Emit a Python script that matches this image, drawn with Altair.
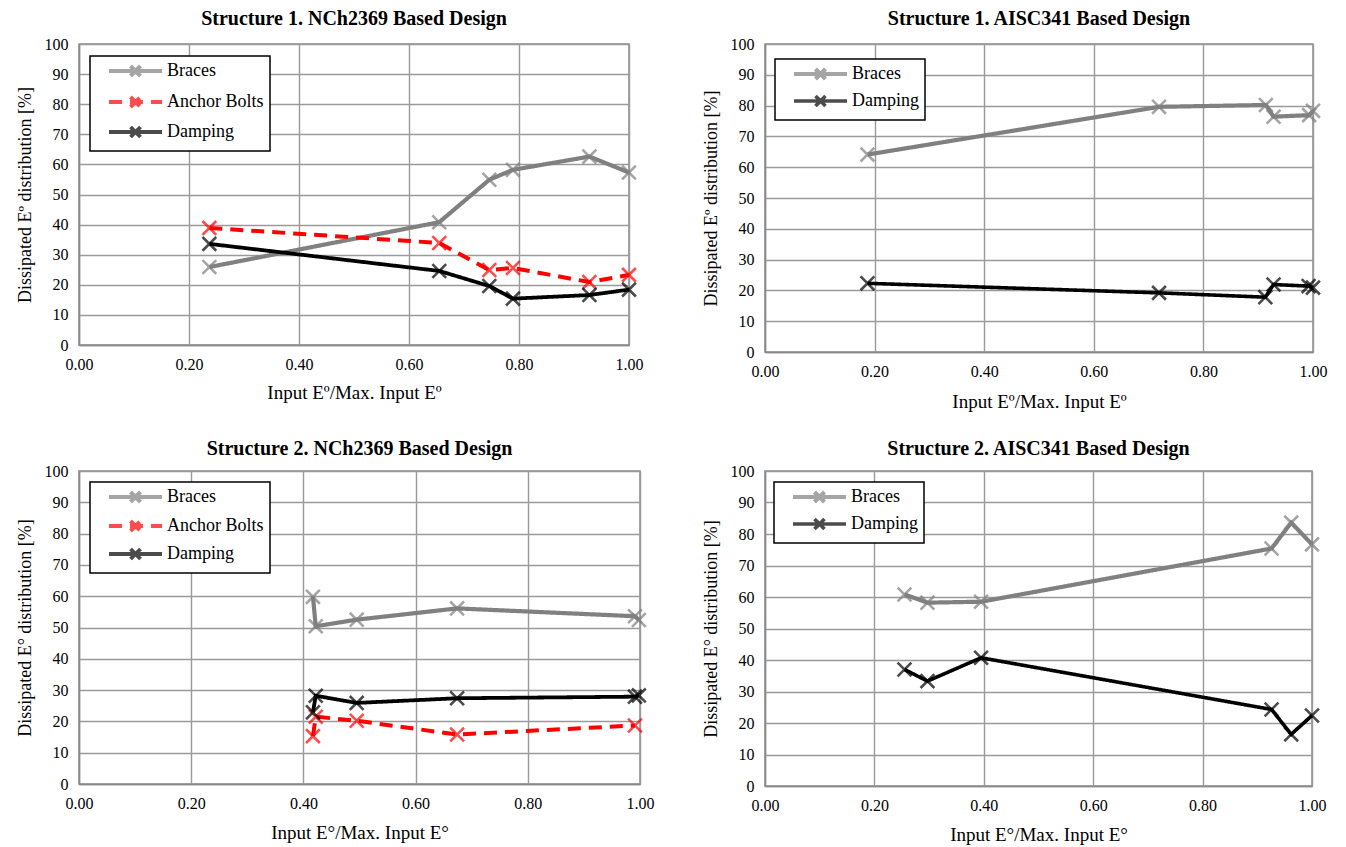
import altair as alt
import pandas as pd

# ---------------- data ----------------
series_order = ["Braces", "Anchor Bolts", "Damping"]

# Structure 1, NCh2369
p1_x = [0.237, 0.655, 0.746, 0.789, 0.928, 1.00]
p1_braces = [25.9, 40.8, 54.9, 58.2, 62.6, 57.3]
p1_x_anchor = [0.237, 0.655, 0.746, 0.789, 0.928, 1.00]
p1_anchor = [38.9, 33.9, 24.9, 25.6, 20.9, 23.3]
p1_x_damp = [0.237, 0.655, 0.746, 0.789, 0.928, 1.00]
p1_damping = [33.6, 24.6, 19.6, 15.4, 16.6, 18.4]

# Structure 1, AISC341
p2_x = [0.187, 0.719, 0.914, 0.928, 0.993, 1.00]
p2_braces = [64.1, 79.6, 80.2, 76.4, 76.9, 78.3]
p2_x_damp = [0.187, 0.719, 0.913, 0.928, 0.992, 1.00]
p2_damping = [22.3, 19.2, 17.8, 21.9, 21.4, 20.9]

# Structure 2, NCh2369
p3_x = [0.417, 0.422, 0.495, 0.674, 0.991, 0.998]
p3_braces = [59.8, 50.4, 52.5, 56.1, 53.6, 52.4]
p3_x_anchor = [0.417, 0.422, 0.495, 0.674, 0.991]
p3_anchor = [15.3, 21.5, 20.2, 15.8, 18.7]
p3_x_damp = [0.417, 0.422, 0.495, 0.674, 0.991, 0.998]
p3_damping = [22.9, 28.2, 25.9, 27.4, 27.9, 28.3]

# Structure 2, AISC341
p4_x = [0.255, 0.297, 0.395, 0.926, 0.962, 1.00]
p4_braces = [60.8, 58.2, 58.5, 75.4, 83.6, 76.7]
p4_damping = [37.0, 33.3, 40.7, 24.3, 16.4, 22.4]

titles = [
    "Structure 1. NCh2369 Based Design",
    "Structure 1. AISC341  Based Design",
    "Structure 2. NCh2369 Based Design",
    "Structure 2. AISC341  Based Design",
]
x_titles = [
    "Input Eº/Max. Input Eº",
    "Input Eº/Max. Input Eº",
    "Input E°/Max. Input E°",
    "Input E°/Max. Input E°",
]
y_titles = [
    "Dissipated Eº distribution  [%]",
    "Dissipated Eº distribution  [%]",
    "Dissipated E° distribution  [%]",
    "Dissipated E° distribution  [%]",
]
x_ticks = [0.0, 0.2, 0.4, 0.6, 0.8, 1.0]
y_ticks = [0, 10, 20, 30, 40, 50, 60, 70, 80, 90, 100]

FONT = "Liberation Serif"
COLORS = {"Braces": "#808080", "Anchor Bolts": "#ff0000", "Damping": "#000000"}
DASHES = {"Braces": [1, 0], "Anchor Bolts": [13, 8], "Damping": [1, 0]}
WIDTHS = {"Braces": 4.2, "Anchor Bolts": 3.8, "Damping": 3.6}


def frame(pairs):
    rows = []
    for name, xs, ys in pairs:
        for i, (a, b) in enumerate(zip(xs, ys)):
            rows.append({"series": name, "x": a, "y": b, "i": i})
    return pd.DataFrame(rows)


LEGEND_PATH = "M0,0L21.2,0M8.6,-2L12.6,2M8.6,2L12.6,-2"
MARKER = "M-1,-1L1,1M-1,1L1,-1"


def panel(df, idx, w, h, lx, ly, row_pad, title_off, xtp):
    names = [s for s in series_order if s in set(df["series"])]
    color_scale = alt.Scale(domain=names, range=[COLORS[n] for n in names])
    dash_scale = alt.Scale(domain=names, range=[DASHES[n] for n in names])
    width_scale = alt.Scale(domain=names, range=[WIDTHS[n] for n in names])
    legend = alt.Legend(
        title=None, orient="none", legendX=lx, legendY=ly,
        symbolType=LEGEND_PATH, symbolSize=25, symbolStrokeWidth=4,
        symbolOffset=4, labelOffset=49, rowPadding=row_pad,
        padding=6, strokeColor="black", fillColor="white",
        labelFont=FONT, labelFontSize=18, labelColor="black", labelLimit=220,
    )
    xenc = alt.X("x:Q", scale=alt.Scale(domain=[0, 1], nice=False),
                 axis=alt.Axis(values=x_ticks, format=".2f", title=x_titles[idx],
                               labelFont=FONT, titleFont=FONT, labelFlush=False,
                               labelOverlap=False, labelPadding=11, titlePadding=xtp))
    yenc = alt.Y("y:Q", scale=alt.Scale(domain=[0, 100], nice=False),
                 axis=alt.Axis(values=y_ticks, tickCount=11, title=y_titles[idx],
                               labelFont=FONT, titleFont=FONT, labelFlush=False,
                               labelOverlap=False, labelPadding=11, titlePadding=10))
    line = alt.Chart(df).mark_line().encode(
        x=xenc, y=yenc,
        color=alt.Color("series:N", scale=color_scale, legend=legend),
        strokeDash=alt.StrokeDash("series:N", scale=dash_scale, legend=legend),
        strokeWidth=alt.StrokeWidth("series:N", scale=width_scale, legend=None),
        detail="series:N",
        order="i:Q",
    )
    pts = alt.Chart(df).mark_point(shape=MARKER, filled=False, size=190, strokeWidth=2.6).encode(
        x="x:Q", y="y:Q",
        color=alt.Color("series:N", scale=color_scale, legend=legend),
    )
    return alt.layer(line, pts).properties(
        width=w, height=h,
        title=alt.TitleParams(titles[idx], anchor="middle", font=FONT, fontSize=20,
                              fontWeight="bold", color="black", offset=title_off),
    )


df1 = frame([("Braces", p1_x, p1_braces), ("Anchor Bolts", p1_x_anchor, p1_anchor),
             ("Damping", p1_x_damp, p1_damping)])
df2 = frame([("Braces", p2_x, p2_braces), ("Damping", p2_x_damp, p2_damping)])
df3 = frame([("Braces", p3_x, p3_braces), ("Anchor Bolts", p3_x_anchor, p3_anchor),
             ("Damping", p3_x_damp, p3_damping)])
df4 = frame([("Braces", p4_x, p4_braces), ("Damping", p4_x, p4_damping)])

c1 = panel(df1, 0, 550, 301, 11, 12, 4, 7, 11)
c2 = panel(df2, 1, 548, 308, 10, 15, 0, 7, 13)
c3 = panel(df3, 2, 561, 313, 11, 11, 2, 4, 12)
c4 = panel(df4, 3, 547, 315, 9, 11, 0, 4, 12)

top = alt.hconcat(c1, c2, spacing=57).resolve_scale(color="independent", strokeDash="independent", strokeWidth="independent")
bottom = alt.hconcat(c3, c4, spacing=46).resolve_scale(color="independent", strokeDash="independent", strokeWidth="independent")

chart = alt.vconcat(top, bottom, spacing=26).resolve_scale(
    color="independent", strokeDash="independent", strokeWidth="independent"
).configure_view(
    stroke="#8a8a8a", strokeWidth=1.5
).configure_axis(
    labelFontSize=16, labelColor="black",
    titleFontSize=19, titleFontWeight="normal", titleColor="black",
    grid=True, gridColor="#9a9a9a", gridWidth=1.4,
    domainColor="#8a8a8a", domainWidth=1.5, ticks=False,
).configure_axisY(
    titleFontSize=18
).configure_legend(
    strokeWidth=1.5
).properties(padding={"left": 7, "top": 0, "right": 3, "bottom": 3}, background="white")

chart.save("out.html", embed_options={"renderer": "svg", "actions": False})
